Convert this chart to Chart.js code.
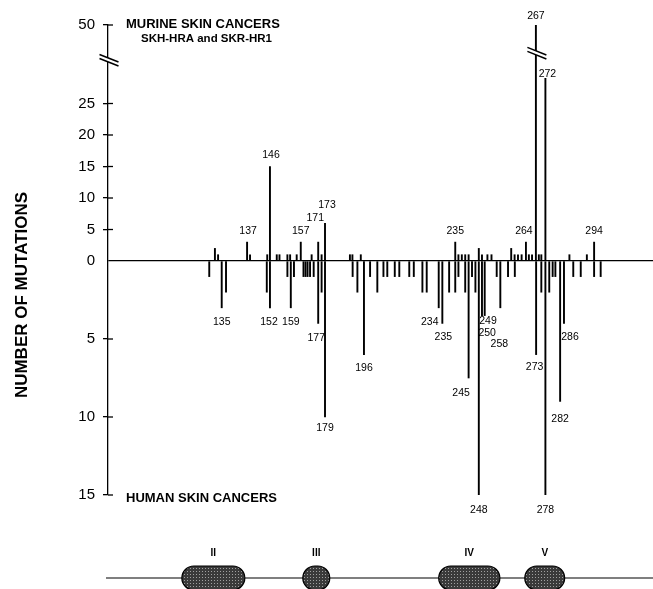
<!doctype html>
<html>
<head>
	<title>p53 mutation spectrum</title>
	<script src="https://cdn.jsdelivr.net/npm/chart.js@4/dist/chart.umd.min.js"></script>
	<style>
		body { margin: 0; background: #fff; }
		#wrap { width: 653px; height: 589px; }
	</style>
</head>
<body>
	<div id="wrap"><canvas id="canvas"></canvas></div>
	<script>
		// position along the gene (codon scale) and number of mutations
		const murinePos = [131.6, 133.0, 145.8, 147.1, 154.7, 155.9, 158.9, 160.1, 163.6, 164.8, 167.7, 169.5, 174.3, 177.2,
			178.7, 180.2, 191.2, 192.3, 196.0, 237.7, 239.1, 240.6, 242.1, 243.6, 248.1, 249.5, 251.9, 253.7, 262.4, 263.9,
			265.4, 267.0, 268.9, 270.2, 271.6, 273.3, 274.6, 275.7, 277.5, 288.1, 295.8, 299.0];
		const murineCount = [2, 1, 3, 1, 1, 15, 1, 1, 1, 1, 1, 3, 1, 3, 1, 6, 1, 1, 1, 3, 1, 1, 1, 1, 2, 1, 1, 1, 2, 1,
			1, 1, 3, 1, 1, 50, 1, 1, 29, 1, 1, 3];
		const murineCodon = ['', '', '137', '', '', '146', '', '', '', '', '', '157', '', '171', '', '173', '', '', '', '235', '', '', '', '', '', '', '', '', '', '',
			'', '', '264', '', '', '267', '', '', '272', '', '', '294'];

		const humanPos = [129.1, 134.6, 136.5, 154.5, 155.9, 163.6, 165.1, 166.5, 170.7, 171.6, 172.5, 173.6, 175.2, 177.2,
			178.7, 180.2, 192.4, 194.5, 197.4, 200.1, 203.3, 206.0, 207.7, 211.0, 213.0, 217.4, 219.4, 223.2, 225.1, 230.4,
			232.0, 235.0, 237.7, 239.1, 242.1, 243.6, 245.1, 246.6, 248.1, 249.5, 250.7, 256.0, 257.6, 261.0, 264.0, 273.4,
			275.7, 277.5, 279.2, 280.7, 281.9, 284.0, 285.7, 289.8, 293.1, 299.0, 301.9];
		const humanCount = [1, 3, 2, 2, 3, 1, 3, 1, 1, 1, 1, 1, 1, 4, 2, 10, 1, 2, 6, 1, 2, 1, 1, 1, 1, 1, 1, 2, 2, 3,
			4, 2, 2, 1, 2, 7.5, 1, 2, 15, 3.5, 3.5, 1, 3, 1, 1, 6, 2, 15, 2, 1, 1, 9, 4, 1, 1, 1, 1];
		const humanCodon = ['', '135', '', '', '152', '', '159', '', '', '', '', '', '', '177', '', '179', '', '', '196', '', '', '', '', '', '', '', '', '', '', '234',
			'235', '', '', '', '', '245', '', '', '248', '249', '250', '', '258', '', '', '273', '', '278', '', '', '', '282', '286', '', '', '', ''];

		const murineTicks = [0, 5, 10, 15, 20, 25, 50];
		const humanTicks = [5, 10, 15];

		const domainNames = ['II', 'III', 'IV', 'V'];
		const domainStart = [117, 170.4, 230.4, 268.4];
		const domainEnd = [144.8, 182.3, 257.4, 286];

		// murine counts go up, human counts go down on a stretched scale; the murine axis is broken above 30
		const HUMAN_STRETCH = 2.476;
		function murineToAxis(v) {
			return v <= 30 ? v : 30 + (v - 30) * (7.46 / 20);
		}
		function humanToAxis(v) {
			return -v * HUMAN_STRETCH;
		}

		const FONT = '"Liberation Sans", Arial, Helvetica, sans-serif';

		// label nudges in pixels relative to the bar end
		const labelNudge = {
			m137: [1, 0], m146: [1, 0], m171: [-3, -13], m173: [2, -7], m264: [-2, 0], m267: [0, 2], m272: [2, 7],
			h152: [-1, 0], h177: [-2, 1], h179: [0, -3], h234: [-9, 0], h235: [1, 0], h245: [-7.5, 1], h248: [0, 1],
			h249: [6, -8], h250: [2.5, 4], h258: [-1, 22], h273: [-1.5, -1], h278: [0, 1], h282: [0, 3.5], h286: [6, 0]
		};

		const tickList = murineTicks.map(v => ({ value: murineToAxis(v), label: String(v) }))
			.concat(humanTicks.map(v => ({ value: humanToAxis(v), label: String(v) })));

		function stipple() {
			const c = document.createElement('canvas');
			c.width = 3;
			c.height = 3;
			const g = c.getContext('2d');
			g.fillStyle = '#3a3a3a';
			g.fillRect(0, 0, 3, 3);
			g.fillStyle = '#a0a0a0';
			g.fillRect(1, 1, 1, 1);
			return g.createPattern(c, 'repeat');
		}

		function breakMark(ctx, cx, cy) {
			ctx.save();
			ctx.fillStyle = '#fff';
			ctx.beginPath();
			ctx.moveTo(cx - 9.5, cy - 5.8);
			ctx.lineTo(cx + 9.5, cy + 1.8);
			ctx.lineTo(cx + 9.5, cy + 5.8);
			ctx.lineTo(cx - 9.5, cy - 1.8);
			ctx.closePath();
			ctx.fill();
			ctx.strokeStyle = '#000';
			ctx.lineWidth = 1.5;
			ctx.beginPath();
			ctx.moveTo(cx - 9.5, cy - 5.8);
			ctx.lineTo(cx + 9.5, cy + 1.8);
			ctx.moveTo(cx - 9.5, cy - 1.8);
			ctx.lineTo(cx + 9.5, cy + 5.8);
			ctx.stroke();
			ctx.restore();
		}

		const decorations = {
			id: 'decorations',
			afterDraw(chart) {
				const ctx = chart.ctx;
				const x = chart.scales.x;
				const y = chart.scales.y;
				const ax = chart.chartArea.left;
				ctx.save();

				// tick marks cross the axis: inner half
				ctx.strokeStyle = '#000';
				ctx.lineWidth = 1.3;
				tickList.forEach(t => {
					if (t.value === 0) return;
					const py = y.getPixelForValue(t.value);
					ctx.beginPath();
					ctx.moveTo(ax, py);
					ctx.lineTo(ax + 5, py);
					ctx.stroke();
				});

				// axis breaks
				breakMark(ctx, ax + 1, y.getPixelForValue(murineToAxis(35)));
				const big = murineCount.indexOf(50);
				breakMark(ctx, x.getPixelForValue(murinePos[big]) + 1, y.getPixelForValue(murineToAxis(38)));

				// bar labels
				ctx.fillStyle = '#000';
				ctx.font = '10.5px ' + FONT;
				ctx.textAlign = 'center';
				ctx.textBaseline = 'middle';
				chart.getDatasetMeta(0).data.forEach((el, i) => {
					const txt = murineCodon[i];
					if (!txt) return;
					const n = labelNudge['m' + txt] || [0, 0];
					ctx.fillText(txt, el.x + n[0], el.y - 11 + n[1]);
				});
				chart.getDatasetMeta(1).data.forEach((el, i) => {
					const txt = humanCodon[i];
					if (!txt) return;
					const n = labelNudge['h' + txt] || [0, 0];
					ctx.fillText(txt, el.x + n[0], el.y + 14 + n[1]);
				});

				// panel captions
				ctx.textAlign = 'left';
				ctx.font = 'bold 13px ' + FONT;
				ctx.fillText('MURINE SKIN CANCERS', 126, 24);
				ctx.fillText('HUMAN SKIN CANCERS', 126, 498);
				ctx.font = 'bold 11.5px ' + FONT;
				ctx.fillText('SKH-HRA and SKR-HR1', 141, 38.5);

				// y title
				ctx.save();
				ctx.translate(22, 295);
				ctx.rotate(-Math.PI / 2);
				ctx.textAlign = 'center';
				ctx.font = 'bold 17px ' + FONT;
				ctx.fillText('NUMBER OF MUTATIONS', 0, 0);
				ctx.restore();

				// conserved domains along the gene
				const lineY = 578;
				ctx.strokeStyle = '#000';
				ctx.lineWidth = 1.2;
				ctx.beginPath();
				ctx.moveTo(x.getPixelForValue(83.5), lineY);
				ctx.lineTo(chart.width, lineY);
				ctx.stroke();
				const pat = stipple();
				ctx.font = 'bold 10px ' + FONT;
				ctx.textAlign = 'center';
				domainNames.forEach((name, i) => {
					const x0 = x.getPixelForValue(domainStart[i]);
					const x1 = x.getPixelForValue(domainEnd[i]);
					ctx.beginPath();
					ctx.roundRect(x0, lineY - 12, x1 - x0, 24, 12);
					ctx.fillStyle = pat;
					ctx.fill();
					ctx.stroke();
					ctx.fillStyle = '#000';
					ctx.fillText(name, (x0 + x1) / 2, 553);
				});

				ctx.restore();
			}
		};

		window.onload = function() {
			const ctx = document.getElementById('canvas').getContext('2d');
			window.myChart = new Chart(ctx, {
				type: 'bar',
				data: {
					datasets: [{
						label: 'Murine',
						data: murinePos.map((p, i) => ({ x: p, y: murineToAxis(murineCount[i]) })),
						backgroundColor: '#000',
						borderWidth: 0,
						barThickness: 1.25,
						grouped: false
					}, {
						label: 'Human',
						data: humanPos.map((p, i) => ({ x: p, y: humanToAxis(humanCount[i]) })),
						backgroundColor: '#000',
						borderWidth: 0,
						barThickness: 1.25,
						grouped: false
					}]
				},
				options: {
					responsive: true,
					maintainAspectRatio: false,
					animation: false,
					layout: { padding: { top: 25, bottom: 94, left: 0, right: 0 } },
					plugins: {
						colors: { enabled: false },
						legend: { display: false },
						tooltip: { enabled: false }
					},
					scales: {
						x: {
							type: 'linear',
							min: 84.4,
							max: 325,
							offset: false,
							display: false
						},
						y: {
							type: 'linear',
							min: humanToAxis(15),
							max: murineToAxis(50),
							afterBuildTicks(scale) {
								scale.ticks = tickList.map(t => ({ value: t.value, label: t.label }));
							},
							afterFit(scale) {
								scale.width = 108;
							},
							border: { display: true, color: '#000', width: 1.3 },
							grid: {
								color: c => (c.tick && c.tick.value === 0 ? '#000' : 'rgba(0,0,0,0)'),
								tickColor: c => (c.tick && c.tick.value === 0 ? 'rgba(0,0,0,0)' : '#000'),
								lineWidth: 1.3,
								tickLength: 5
							},
							ticks: {
								autoSkip: false,
								color: '#000',
								padding: 8,
								font: { family: FONT, size: 15 },
								callback(value, index, ticks) {
									return ticks[index].label;
								}
							}
						}
					}
				},
				plugins: [decorations]
			});
		};
	</script>
</body>
</html>
